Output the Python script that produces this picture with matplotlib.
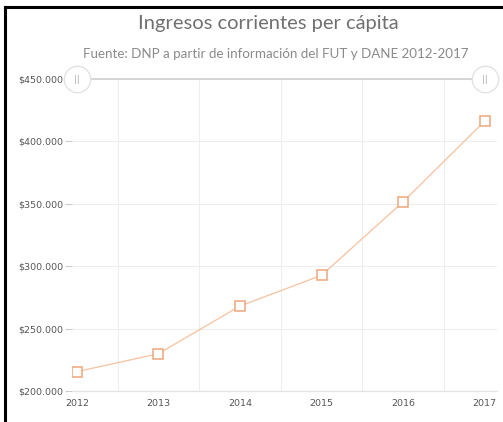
import matplotlib
matplotlib.use("Agg")
import matplotlib.pyplot as plt
from matplotlib.lines import Line2D
from matplotlib.ticker import FuncFormatter

years = ["2012", "2013", "2014", "2015", "2016", "2017"]
values = [215500, 229900, 268100, 292700, 351700, 416300]
yticks = [200000, 250000, 300000, 350000, 400000, 450000]

W, H = 503, 422
fig = plt.figure(figsize=(W / 100, H / 100), dpi=100)
fig.patch.set_facecolor("white")

left, right, top, bottom = 72, 497, 79, 391
ax = fig.add_axes([left / W, 1 - bottom / H, (right - left) / W, (bottom - top) / H])

x = list(range(len(years)))
ax.plot(x, values, color="#f6c6a6", lw=1.0, marker="s", markersize=6.5,
        markerfacecolor="white", markeredgecolor="#eea67a", markeredgewidth=1.1, zorder=3)

ax.set_yticks(yticks)
ax.yaxis.set_major_formatter(FuncFormatter(lambda v, p: "$" + f"{int(v):,}".replace(",", ".")))
ax.set_xticks(x)
ax.set_xticklabels(years)
ax.set_xticks([i + 0.5 for i in range(0, 5)] + [0], minor=True)

ax.grid(axis="y", which="major", color="#eeeeee", lw=0.8)
ax.grid(axis="x", which="minor", color="#eeeeee", lw=0.8)
ax.grid(axis="x", which="major", visible=False)
ax.tick_params(axis="y", length=5, color="#cccccc", width=0.8, labelsize=6.8, labelcolor="#555555", pad=1)
ax.tick_params(axis="x", which="both", length=0, labelsize=6.8, labelcolor="#555555", pad=6)
for s in ["top", "right", "left"]:
    ax.spines[s].set_visible(False)
ax.spines["bottom"].set_color("#e4e4e4")
ax.spines["bottom"].set_linewidth(0.9)

# navigator-like slider at top
ax.plot([0.04, 0.945], [1.0, 1.0], transform=ax.transAxes, color="#cfcfcf", lw=1.2, clip_on=False, zorder=4)
for xf in [(77 - left) / (right - left), (485 - left) / (right - left)]:
    ax.plot([xf], [1.0], transform=ax.transAxes, marker="o", markersize=19, markerfacecolor="white",
            markeredgecolor="#e2e2e2", markeredgewidth=1.0, clip_on=False, zorder=5)
    ax.text(xf, 1.0, "||", transform=ax.transAxes, ha="center", va="center", fontsize=6,
            color="#aaaaaa", zorder=6, clip_on=False)

ax.set_xlim(-0.06, 5.15)
ax.set_ylim(200000, 450000)

fig.text(268 / W, 1 - 24 / H, "Ingresos corrientes per cápita", ha="center", va="center",
         fontsize=14.5, color="#707070", family="Lato")
fig.text(276 / W, 1 - 54 / H, "Fuente: DNP a partir de información del FUT y DANE 2012-2017",
         ha="center", va="center", fontsize=9.6, color="#8a8a8a", family="Lato")

# black frame lines (left and top)
fig.add_artist(Line2D([5 / W, 5 / W], [0, 1 - 7 / H], color="black", lw=2.2, transform=fig.transFigure))
fig.add_artist(Line2D([5 / W, 1], [1 - 7 / H, 1 - 7 / H], color="black", lw=2.2, transform=fig.transFigure))

fig.savefig("out.png", dpi=100)
